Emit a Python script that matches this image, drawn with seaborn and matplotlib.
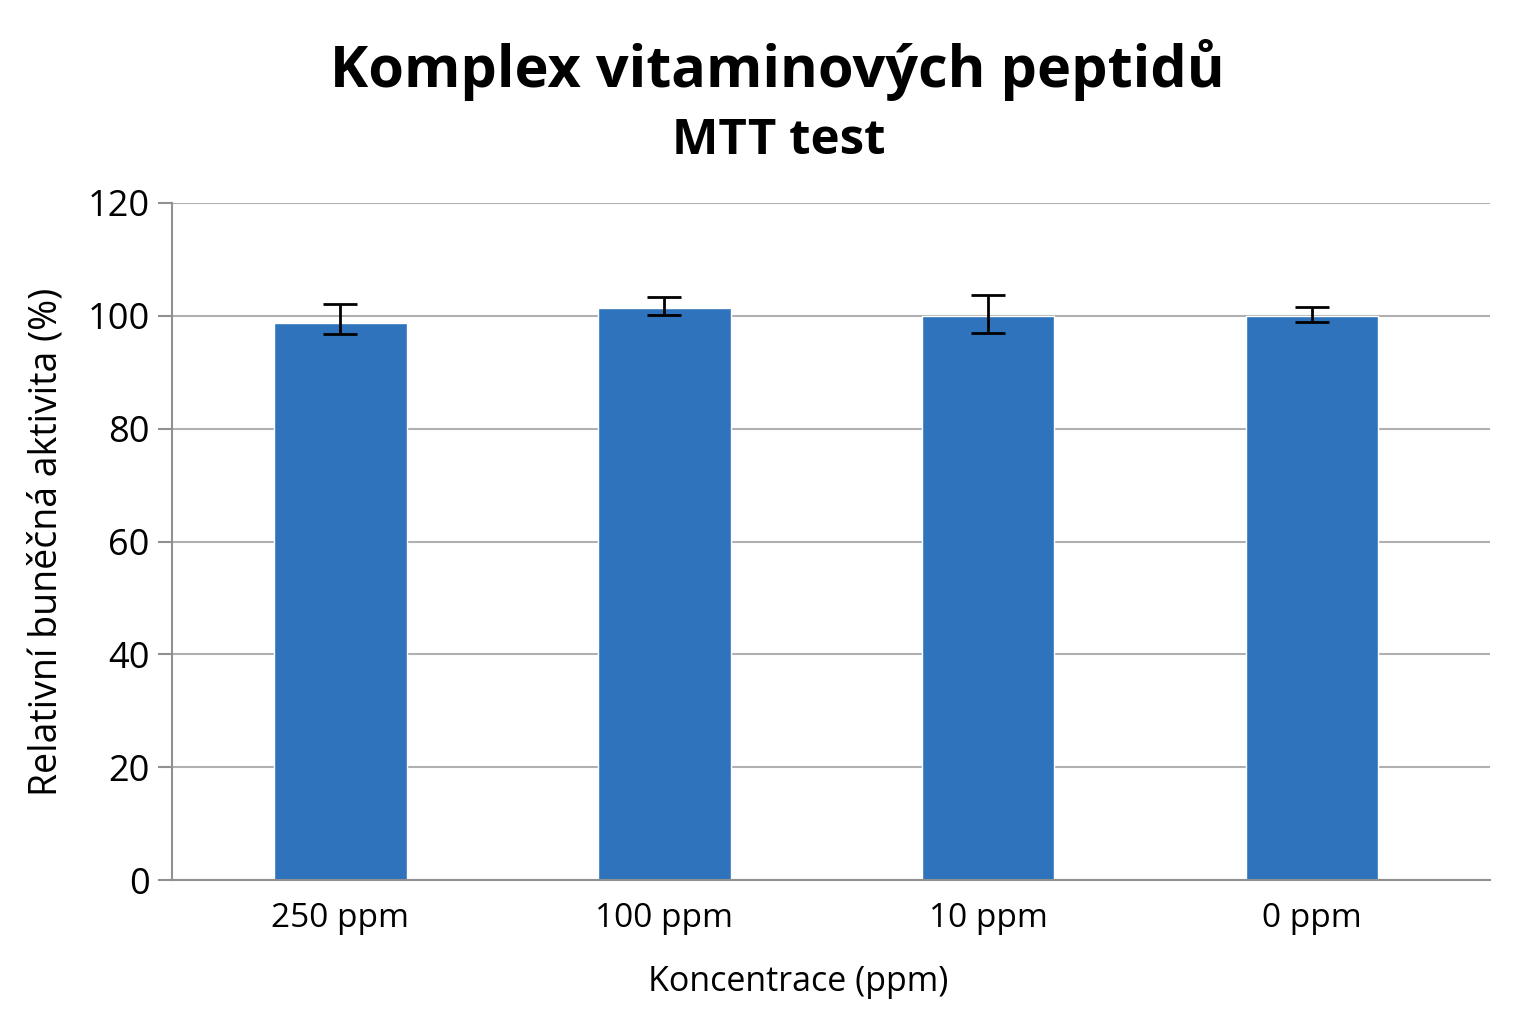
import numpy as np
import pandas as pd
import matplotlib
matplotlib.use("Agg")
import matplotlib.pyplot as plt
import seaborn as sns

categories = ["250 ppm", "100 ppm", "10 ppm", "0 ppm"]
values = [98.8, 101.3, 100.0, 100.0]
err_low = [2.1, 1.2, 3.1, 1.1]
err_high = [3.3, 2.0, 3.7, 1.6]

df = pd.DataFrame({"Koncentrace": categories, "Aktivita": values})

sns.set_theme(style="whitegrid")
plt.rcParams['font.family'] = ['Open Sans', 'DejaVu Sans']

fig = plt.figure(figsize=(15.36, 10.24), dpi=100)
ax = fig.add_axes([172 / 1536, 1 - 880 / 1024, (1490 - 172) / 1536, (880 - 203) / 1024])

sns.barplot(data=df, x="Koncentrace", y="Aktivita", color="#2E73BC",
            width=0.41, saturation=1, errorbar=None, ax=ax)
ax.errorbar(np.arange(len(categories)), values, yerr=[err_low, err_high],
            fmt="none", ecolor="black", elinewidth=2, capsize=12, capthick=2, zorder=5)

ax.set_ylim(0, 120)
ax.set_yticks(range(0, 121, 20))
ax.set_xlim(-0.52, 3.55)
ax.grid(axis="y", color="#B0B0B0", linewidth=1.5)
ax.grid(axis="x", visible=False)
ax.set_axisbelow(True)
for side in ["top", "right"]:
    ax.spines[side].set_visible(False)
for side in ["left", "bottom"]:
    ax.spines[side].set_color("#909090")
    ax.spines[side].set_linewidth(1.5)
ax.tick_params(axis="y", which="both", left=True, length=10, width=1.5, color="#909090",
               labelsize=26, pad=6, labelcolor="black")
ax.tick_params(axis="x", bottom=False, labelsize=24, pad=10, labelcolor="black")

ax.set_xlabel("Koncentrace (ppm)", fontsize=24.5, labelpad=18, color="black")
ax.xaxis.set_label_coords((798 - 172) / (1490 - 172), -0.125)
ax.set_ylabel("Relativní buněčná aktivita (%)", fontsize=27, labelpad=16, color="black")

fig.text(0.506, 0.932, "Komplex vitaminových peptidů", ha="center", va="center",
         fontsize=41.5, fontweight="bold", color="black")
fig.text(0.507, 0.862, "MTT test", ha="center", va="center",
         fontsize=35.5, fontweight="bold", color="black")

fig.savefig("out.png", dpi=100, facecolor="white")
